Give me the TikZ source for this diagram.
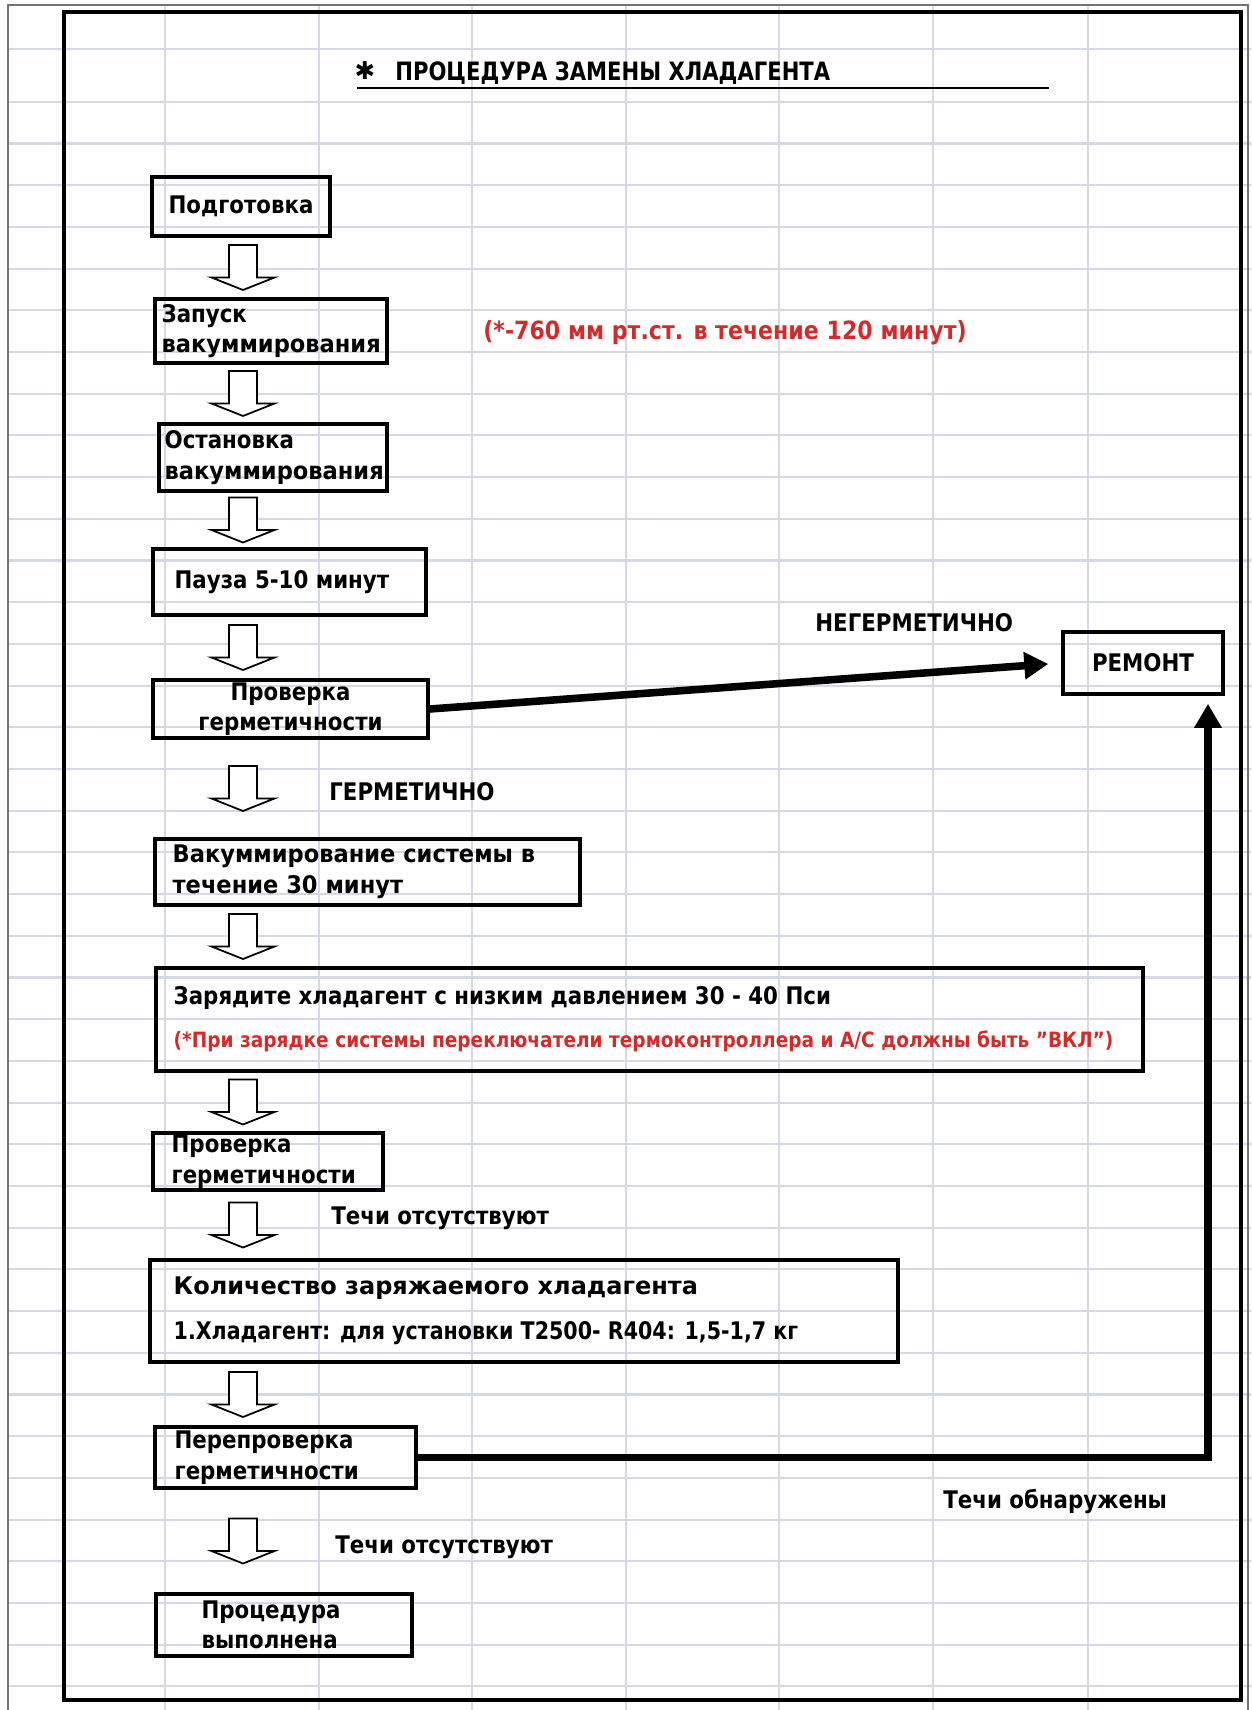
\documentclass[tikz,border=0pt]{standalone}
\usepackage{fontspec}
\setmainfont{DejaVu Sans}[FakeStretch=0.88]
\newfontfamily\narrowfont{DejaVu Sans}[FakeStretch=0.85]
\newfontfamily\widefont{DejaVu Sans}[FakeStretch=0.93]
\newfontfamily\widerfont{DejaVu Sans}[FakeStretch=0.99]
\newfontfamily\titlefont{DejaVu Sans}[FakeStretch=0.835]
\newfontfamily\starfont{DejaVu Sans}
\usetikzlibrary{positioning,calc,arrows.meta}
\definecolor{gridblue}{RGB}{212,217,228}
\definecolor{notered}{RGB}{212,42,42}
\tikzset{gridline/.style={gridblue,line width=1.2pt},
  sheetedge/.style={black!55,line width=1pt},
  stepbox/.style={draw,line width=2pt,inner sep=0pt,align=center,font=\bfseries\fontsize{13.8}{17.4}\selectfont},
  steptext/.style={inner sep=0pt,align=left,font=\bfseries\fontsize{13.8}{17.4}\selectfont},
  notetext/.style={inner sep=0pt,anchor=west,font=\bfseries\fontsize{13.8}{17.4}\selectfont},
  hollowarrow/.style={draw,fill=white,line width=1pt},
  bigarrow/.style={line width=4.3pt,-{Triangle[length=4.8mm,width=5.2mm]}}}

\begin{document}
\begin{tikzpicture}[x=0.02cm,y=-0.02cm]
       \useasboundingbox (0,0) rectangle (1251,1710);
       % the sheet
       \foreach \y in {49,102} \draw[gridline] (8,\y) -- (1251,\y);
       \foreach \k in {0,...,37} \draw[gridline] (8,{143.5+41.7*\k}) -- (1251,{143.5+41.7*\k});
       \foreach \x in {165,319,472,626,779,933,1088} \draw[gridline] (\x,5) -- (\x,1710);
       \draw[sheetedge] (8,1710) -- (8,5) -- (1248,5) -- (1248,1710);
       \draw[line width=2.8pt] (64,12) rectangle (1241,1700);
       % title
       \node[inner sep=0pt,font=\starfont\bfseries\fontsize{14}{14}\selectfont] (star) at (365,71) {✱};
       \node[anchor=base west,inner sep=0pt,font=\titlefont\bfseries\fontsize{14.4}{18}\selectfont] (title) at (395,81) {ПРОЦЕДУРА ЗАМЕНЫ ХЛАДАГЕНТА};
       \draw[line width=1.4pt] (357,88) -- (1049,88);
       % steps
       \node[stepbox,minimum width=35.6mm,minimum height=11.8mm] (prep) at (241,206.5) {\raisebox{-1mm}{Подготовка}};
       \node[stepbox,minimum width=46.4mm,minimum height=12.8mm] (start) at (271,331) {};
       \node[steptext,right=1.6mm of start.west] (start-t) {Запуск\\{\widefont вакуммирования}};
       \node[stepbox,minimum width=45.6mm,minimum height=13.4mm] (stop) at (273,457.5) {};
       \node[steptext,right=1.4mm of stop.west] (stop-t) {Остановка\\{\widefont вакуммирования}};
       \node[stepbox,minimum width=54.6mm,minimum height=13.2mm] (pause) at (289.5,582) {};
       \node[steptext,right=4.6mm of pause.west] (pause-t) {Пауза 5-10 минут};
       \node[stepbox,minimum width=55mm,minimum height=11.6mm] (check1) at (290.5,709) {Проверка\\герметичности};
       \node[stepbox,minimum width=32mm,minimum height=12.4mm] (repair) at (1143,663) {РЕМОНТ};
       \node[stepbox,minimum width=85mm,minimum height=13.2mm] (vacuum) at (367.5,872) {};
       \node[steptext,font=\widefont\bfseries\fontsize{13.8}{17.4}\selectfont,right=3.8mm of vacuum.west] (vacuum-t) {Вакуммирование системы в\\течение 30 минут};
       \node[stepbox,minimum width=197.4mm,minimum height=20.6mm] (charge) at (649.5,1019.5) {};
       \node[steptext,right=3.8mm of charge.west] (charge-t) {Зарядите хладагент с низким давлением 30 - 40 Пси\\[7pt]
         \textcolor{notered}{\fontsize{12}{14}\selectfont(*При зарядке системы переключатели термоконтроллера и А/С должны быть "ВКЛ")}};
       \node[stepbox,minimum width=46mm,minimum height=11.4mm] (check2) at (268,1161.5) {};
       \node[steptext,right=4mm of check2.west] (check2-t) {Проверка\\герметичности};
       \node[stepbox,minimum width=149.6mm,minimum height=20.4mm] (amount) at (524,1311) {};
       \node[steptext,right=5mm of amount.west] (amount-t) {{\widerfont Количество заряжаемого хладагента}\\[8pt]
         {\narrowfont 1.Хладагент: для установки T2500- R404: 1,5-1,7 кг}};
       \node[stepbox,minimum width=52.2mm,minimum height=12.2mm] (recheck) at (285.5,1457.5) {};
       \node[steptext,right=4.2mm of recheck.west] (recheck-t) {Перепроверка\\герметичности};
       \node[stepbox,minimum width=51.2mm,minimum height=12.4mm] (done) at (284,1625) {};
       \node[steptext,right=9.4mm of done.west] (done-t) {Процедура\\выполнена};
       % notes
       \node[notetext,text=notered,font=\bfseries\fontsize{14.3}{17.4}\selectfont] (vacnote) at (483,333) {(*-760 мм рт.ст. в течение 120 минут)};
       \node[notetext] (leak) at (815,623) {НЕГЕРМЕТИЧНО};
       \node[notetext] (tight) at (329,792) {ГЕРМЕТИЧНО};
       \node[notetext] (noleak1) at (331,1218) {Течи отсутствуют};
       \node[notetext] (found) at (943,1501) {Течи обнаружены};
       \node[notetext] (noleak2) at (335,1547) {Течи отсутствуют};
       % arrows
       \coordinate (axis) at (243,0);
       \foreach \a/\b in {prep/start,start/stop,stop/pause,pause/check1,check1/vacuum,vacuum/charge,charge/check2,check2/amount,amount/recheck,recheck/done}
        \draw[hollowarrow] let \p1=(\a.south), \p2=(\b.north), \p3=(axis) in
         ({\x3-7.97pt},{(\y1+\y2)/2+12.8pt}) -- ({\x3+7.97pt},{(\y1+\y2)/2+12.8pt})
         -- ({\x3+7.97pt},{(\y1+\y2)/2-5.69pt}) -- ({\x3+17.93pt},{(\y1+\y2)/2-5.69pt})
         -- ({\x3},{(\y1+\y2)/2-12.8pt}) -- ({\x3-17.93pt},{(\y1+\y2)/2-5.69pt})
         -- ({\x3-7.97pt},{(\y1+\y2)/2-5.69pt}) -- cycle;
       \draw[bigarrow,shorten >=2.6mm] (check1.east) -- (repair.west);
       \coordinate (turn) at (1208,1457.5);
       \draw[bigarrow,shorten >=1.6mm] (recheck.east) -- (turn) -- (turn |- repair.south);
      \end{tikzpicture}
\end{document}
